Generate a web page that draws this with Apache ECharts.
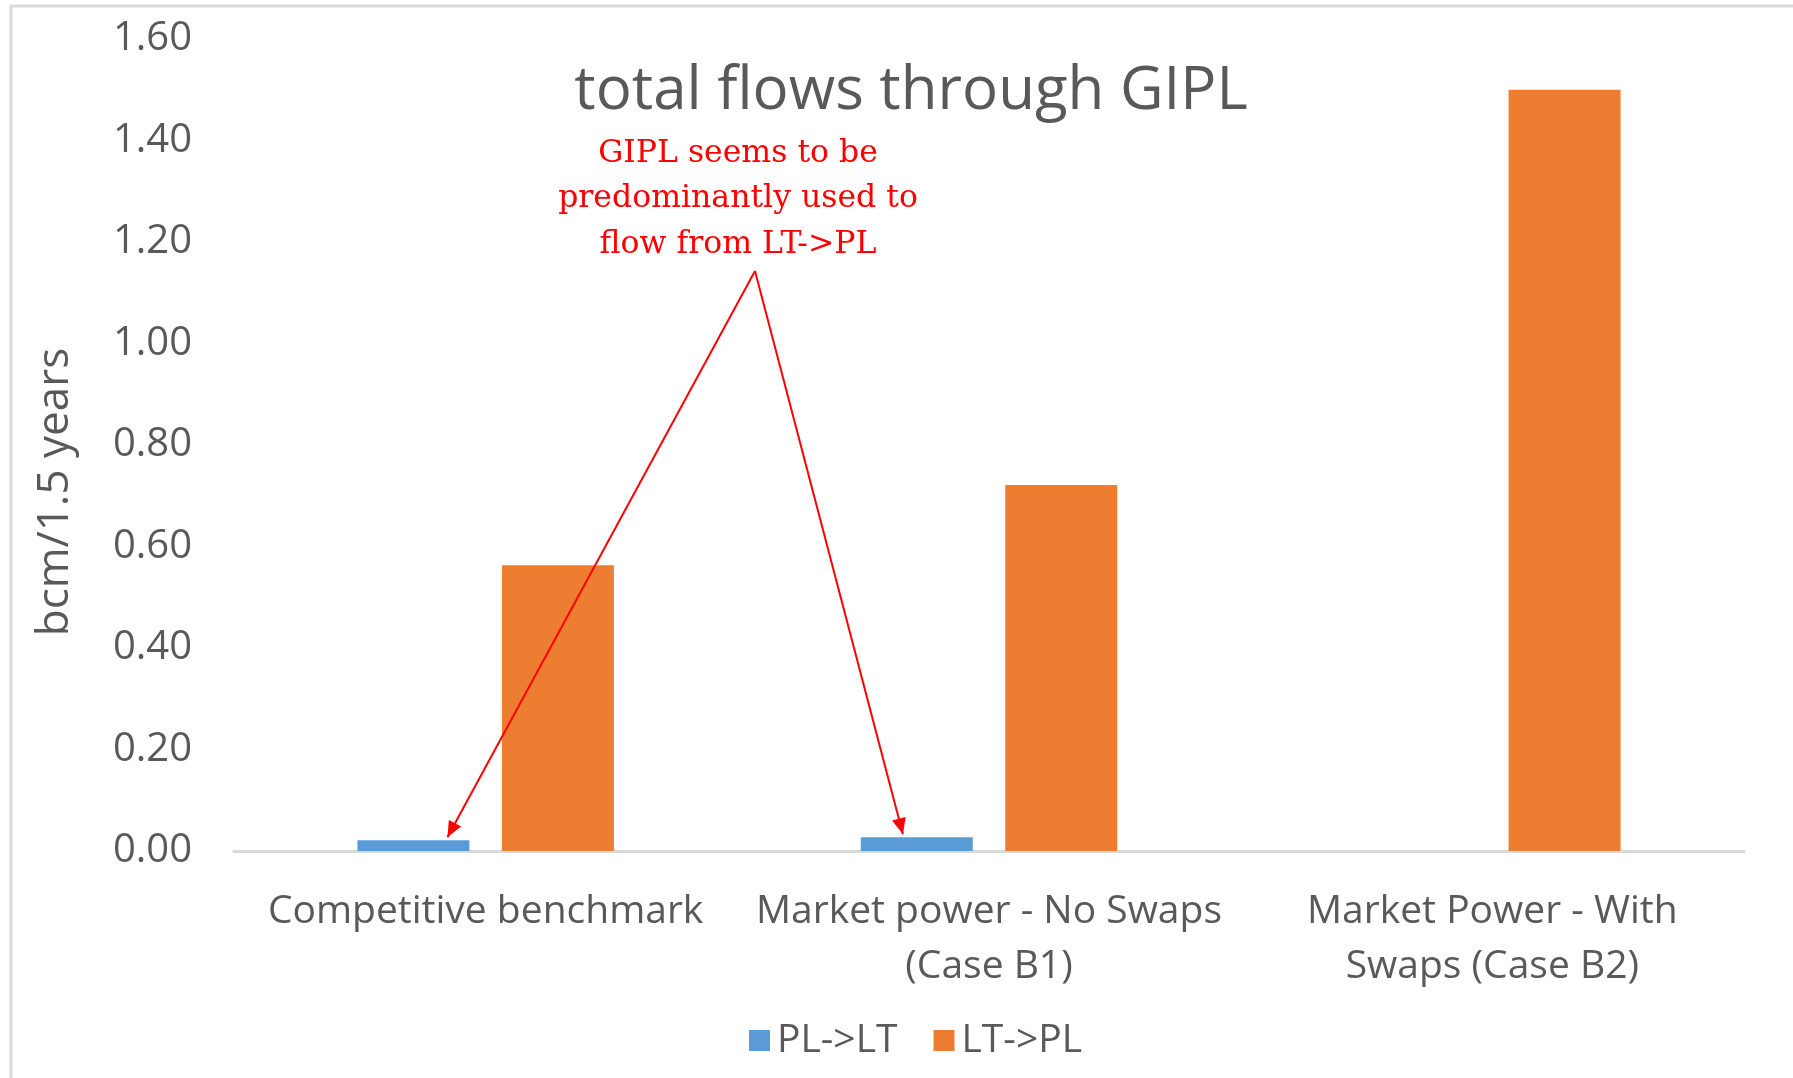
<!DOCTYPE html>
<html>
<head>
<meta charset="utf-8">
<script src="https://cdn.jsdelivr.net/npm/echarts@6/dist/echarts.min.js"></script>
<style>
  html, body { margin: 0; padding: 0; background: #fff; }
  #chart { width: 1793px; height: 1078px; }
</style>
</head>
<body>
<div id="chart"></div>
<script>
// data
var categories = ['Competitive benchmark', 'Market power - No Swaps\n(Case B1)', 'Market Power - With\nSwaps (Case B2)'];
var seriesNames = ['PL->LT', 'LT->PL'];
var plToLt = [0.021, 0.027, 0];
var ltToPl = [0.563, 0.721, 1.5];
var yTicks = [0, 0.2, 0.4, 0.6, 0.8, 1.0, 1.2, 1.4, 1.6];

var grey = '#595959';
var font = 'Open Sans';

var myChart = echarts.init(document.getElementById('chart'));

var option = {
  backgroundColor: '#fff',
  animation: false,
  title: {
    text: 'total flows through GIPL',
    left: 906,
    top: 57,
    textAlign: 'center',
    textStyle: { fontFamily: font, fontSize: 60, fontWeight: 'normal', color: grey }
  },
  legend: {
    data: seriesNames,
    left: 744,
    top: 1016,
    itemWidth: 21,
    itemHeight: 21,
    itemGap: 36,
    icon: 'rect',
    textStyle: { fontFamily: font, fontSize: 39, color: grey, padding: [0, 0, 0, 2] }
  },
  grid: { left: 234, right: 49, top: 39, bottom: 227, containLabel: false },
  xAxis: {
    type: 'category',
    data: categories,
    axisLine: { lineStyle: { color: '#d9d9d9', width: 3 } },
    axisTick: { show: false },
    axisLabel: {
      fontFamily: font, fontSize: 39, color: grey, lineHeight: 55,
      margin: 33, interval: 0
    }
  },
  yAxis: {
    type: 'value',
    min: yTicks[0],
    max: yTicks[yTicks.length - 1],
    interval: 0.2,
    axisLine: { show: false },
    axisTick: { show: false },
    splitLine: { show: false },
    axisLabel: {
      fontFamily: font, fontSize: 40, color: grey, margin: 42,
      formatter: function (v) { return v.toFixed(2); }
    }
  },
  series: [
    {
      name: seriesNames[0], type: 'bar', data: plToLt,
      itemStyle: { color: '#5b9bd5' },
      barWidth: 112, barGap: '29%'
    },
    {
      name: seriesNames[1], type: 'bar', data: ltToPl,
      itemStyle: { color: '#ed7d31' },
      barWidth: 112, barGap: '29%'
    }
  ]
};

myChart.setOption(option);

// annotation: red text with two arrows pointing at the small PL->LT bars
function arrowHead(from, to) {
  var dx = to[0] - from[0], dy = to[1] - from[1];
  var len = Math.sqrt(dx * dx + dy * dy);
  var ux = dx / len, uy = dy / len;
  var hl = 16, hw = 7;
  var bx = to[0] - ux * hl, by = to[1] - uy * hl;
  return [[to[0], to[1]], [bx - uy * hw, by + ux * hw], [bx + uy * hw, by - ux * hw]];
}

var c0 = myChart.convertToPixel({ xAxisIndex: 0 }, 0);
var c1 = myChart.convertToPixel({ xAxisIndex: 0 }, 1);
var band = c1 - c0;
var apex = [755, 271];
var tip1 = [c0 - 0.076 * band, myChart.convertToPixel({ yAxisIndex: 0 }, plToLt[0]) - 3];
var tip2 = [c1 - 0.171 * band, myChart.convertToPixel({ yAxisIndex: 0 }, plToLt[1]) - 3];

var red = '#ff0000';
myChart.setOption({
  graphic: [
    {
      type: 'rect', silent: true, z: 100,
      shape: { x: 11, y: 6, width: 1800, height: 1100 },
      style: { fill: 'none', stroke: '#d9d9d9', lineWidth: 3 }
    },
    {
      // y axis name
      type: 'text', silent: true, z: 100,
      x: 55, y: 492, rotation: Math.PI / 2,
      style: {
        text: 'bcm/1.5 years',
        fontFamily: font, fontSize: 44, fill: grey,
        align: 'center', verticalAlign: 'middle'
      }
    },
    {
      type: 'text', silent: true, z: 100,
      x: 738, y: 131,
      style: {
        text: 'GIPL seems to be\npredominantly used to\nflow from LT->PL',
        fontFamily: 'DejaVu Serif', fontSize: 31.5, lineHeight: 45.5,
        fill: red, align: 'center'
      }
    },
    { type: 'line', z: 100, shape: { x1: apex[0], y1: apex[1], x2: tip1[0], y2: tip1[1] }, style: { stroke: red, lineWidth: 2 } },
    { type: 'line', z: 100, shape: { x1: apex[0], y1: apex[1], x2: tip2[0], y2: tip2[1] }, style: { stroke: red, lineWidth: 2 } },
    { type: 'polygon', z: 100, shape: { points: arrowHead(apex, tip1) }, style: { fill: red } },
    { type: 'polygon', z: 100, shape: { points: arrowHead(apex, tip2) }, style: { fill: red } }
  ]
});
</script>
</body>
</html>
